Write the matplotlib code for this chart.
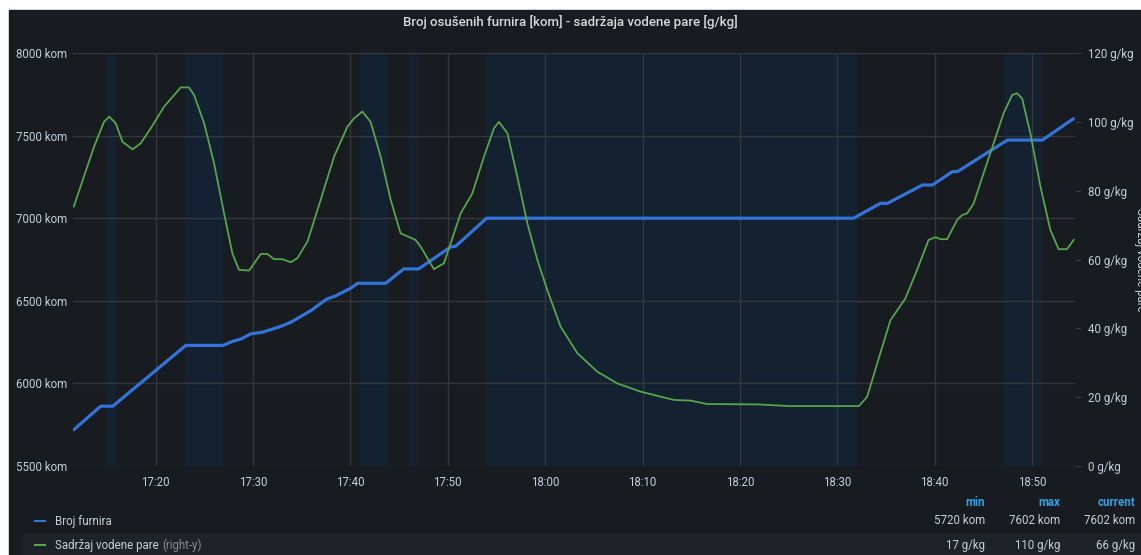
import numpy as np
import pandas as pd
import matplotlib
matplotlib.use('Agg')
import matplotlib.pyplot as plt
import matplotlib.dates as mdates
from matplotlib.patches import Rectangle

plt.rcParams['font.family'] = ['Roboto', 'DejaVu Sans']

day = '2021-03-01 '

# Broj furnira [kom] - left axis
furnir_t = ['17:11:35', '17:14:21', '17:15:35', '17:23:05', '17:26:53', '17:27:55',
            '17:28:44', '17:29:45', '17:30:59', '17:32:50', '17:33:52', '17:35:55',
            '17:37:33', '17:38:29', '17:40:01', '17:40:44', '17:43:37', '17:45:28',
            '17:47:00', '17:50:17', '17:50:48', '17:53:59', '18:31:40', '18:34:26',
            '18:35:09', '18:38:45', '18:39:46', '18:41:50', '18:42:21', '18:47:28',
            '18:51:04', '18:54:15']
furnir_v = [5720, 5862, 5862, 6230, 6230, 6255,
            6268, 6300, 6310, 6345, 6370, 6440,
            6510, 6530, 6576, 6606, 6606, 6693,
            6693, 6826, 6830, 7000, 7000, 7090,
            7090, 7201, 7201, 7282, 7282, 7473,
            7473, 7602]

# Sadrzaj vodene pare [g/kg] - right axis
para_t = ['17:11:35', '17:13:40', '17:14:41', '17:15:13', '17:15:53', '17:16:35',
          '17:17:37', '17:18:28', '17:19:29', '17:20:51', '17:22:03', '17:22:34',
          '17:23:25', '17:23:56', '17:24:58', '17:25:59', '17:27:01', '17:27:52',
          '17:28:33', '17:29:35', '17:30:47', '17:31:28', '17:32:09', '17:33:01',
          '17:33:52', '17:34:33', '17:35:35', '17:36:56', '17:38:19', '17:39:41',
          '17:40:22', '17:41:13', '17:42:04', '17:43:06', '17:44:08', '17:45:09',
          '17:46:41', '17:47:13', '17:48:34', '17:49:36', '17:51:19', '17:52:31',
          '17:53:43', '17:54:44', '17:55:15', '17:56:07', '17:57:08', '17:58:10',
          '17:59:11', '18:00:13', '18:01:35', '18:03:18', '18:05:21', '18:07:24',
          '18:09:48', '18:11:30', '18:13:13', '18:14:56', '18:16:39', '18:21:47',
          '18:25:12', '18:32:13', '18:33:04', '18:34:06', '18:35:28', '18:37:00',
          '18:38:12', '18:39:23', '18:40:05', '18:40:36', '18:41:17', '18:42:19',
          '18:42:49', '18:43:20', '18:44:01', '18:45:02', '18:46:04', '18:47:05',
          '18:47:58', '18:48:28', '18:48:59', '18:49:50', '18:50:52', '18:51:53',
          '18:52:44', '18:53:36', '18:54:17']
para_v = [75.4, 92.8, 100.0, 101.5, 99.6, 94.2,
          92.0, 93.8, 98.1, 104.4, 108.3, 110.0,
          110.0, 107.8, 99.6, 88.0, 73.4, 61.8,
          57.0, 56.8, 61.6, 61.6, 60.1, 60.1,
          59.2, 60.4, 65.2, 77.3, 89.9, 98.6,
          101.0, 103.0, 100.0, 89.9, 77.3, 67.6,
          65.7, 63.7, 57.2, 58.9, 73.4, 79.2,
          89.9, 98.1, 100.0, 96.7, 84.1, 70.5,
          60.0, 51.1, 40.5, 32.8, 27.4, 24.0,
          21.6, 20.4, 19.2, 19.0, 18.0, 17.9,
          17.4, 17.4, 20.1, 29.8, 42.4, 48.7,
          57.0, 65.7, 66.5, 65.9, 65.9, 71.5,
          72.9, 73.4, 76.3, 85.1, 93.8, 102.5,
          107.8, 108.3, 106.8, 96.7, 81.2, 68.6,
          63.0, 63.0, 65.7]

# shaded time regions
band_start = ['17:14:58', '17:23:00', '17:40:58', '17:46:00', '17:53:54', '18:47:06']
band_end = ['17:15:54', '17:26:57', '17:43:54', '17:46:54', '18:32:00', '18:51:00']

legend_names = ['Broj furnira', 'Sadržaj vodene pare']
stat_min = ['5720 kom', '17 g/kg']
stat_max = ['7602 kom', '110 g/kg']
stat_cur = ['7602 kom', '66 g/kg']

bg = '#181b1f'
txt = '#c7d0d9'
blue = '#3274d9'
green = '#56a64b'
fs = 8.3

def tt(lst):
    return pd.to_datetime([day + s for s in lst])

W, H = 1141, 555
fig = plt.figure(figsize=(W / 100, H / 100), dpi=100, facecolor='white')
fig.patches.append(Rectangle((9 / W, 0), 1, 1 - 10 / H, transform=fig.transFigure,
                             color=bg, zorder=-1))
# second legend row background
fig.patches.append(Rectangle((23 / W, 0), 1, 21 / H, transform=fig.transFigure,
                             color='#1f2226', zorder=-1))

ax = fig.add_axes([73 / W, 1 - 466 / H, (1075 - 73) / W, (466 - 53) / H])
ax.set_facecolor(bg)
for s, e in zip(tt(band_start), tt(band_end)):
    ax.axvspan(s, e, color='#132131', lw=0, zorder=1)
ax.plot(tt(furnir_t), furnir_v, color=blue, lw=2.3, solid_capstyle='round', zorder=3)
ax.set_ylim(5500, 8000)
ax.set_yticks([5500, 6000, 6500, 7000, 7500, 8000])
ax.set_yticklabels([f'{v} kom' for v in [5500, 6000, 6500, 7000, 7500, 8000]])
ax.set_xlim(tt(['17:11:30'])[0], tt(['18:54:25'])[0])
ax.xaxis.set_major_locator(mdates.MinuteLocator(byminute=[0, 10, 20, 30, 40, 50]))
ax.xaxis.set_major_formatter(mdates.DateFormatter('%H:%M'))
ax.grid(True, color='#34373c', lw=1)
ax.tick_params(axis='both', length=0, colors=txt, labelsize=fs)
ax.tick_params(axis='x', pad=7)
ax.tick_params(axis='y', pad=4)
for sp in ax.spines.values():
    sp.set_visible(False)

ax2 = ax.twinx()
ax2.plot(tt(para_t), para_v, color=green, lw=1.3, zorder=3)
ax2.set_ylim(0, 120)
ax2.set_yticks(range(0, 121, 20))
ax2.set_yticklabels([f'{v} g/kg' for v in range(0, 121, 20)])
ax2.tick_params(axis='y', length=4, colors=txt, labelsize=fs, pad=5)
ax2.tick_params(axis='y', color='#3a3d42')
for sp in ax2.spines.values():
    sp.set_visible(False)

fig.text(1140 / W, 0.5 * ((1 - 466 / H) + (1 - 53 / H)), 'Sadržaj vodene pare',
         rotation=270, ha='center', va='center', color=txt, fontsize=fs)

fig.text(0.5, 1 - 22 / H, 'Broj osušenih furnira [kom] - sadržaja vodene pare [g/kg]',
         ha='center', va='center', color='#d8d9da', fontsize=9.5, fontweight='medium')

# legend table
hy = 1 - 502 / H
for x, lab in zip([985, 1060, 1135], ['min', 'max', 'current']):
    fig.text(x / W, hy, lab, ha='right', va='center', color='#33a2e5',
             fontsize=fs, fontweight='bold')
for i, (name, col) in enumerate(zip(legend_names, [blue, green])):
    y = 1 - (521 + 24 * i) / H
    fig.lines.append(plt.Line2D([35 / W, 45 / W], [y, y], transform=fig.transFigure,
                                color=col, lw=1.5))
    fig.text(55 / W, y, name, ha='left', va='center', color=txt, fontsize=fs)
    if i == 1:
        fig.text(162 / W, y, '(right-y)', ha='left', va='center', color='#8e8e8e',
                 fontsize=fs)
    fig.text(985 / W, y, stat_min[i], ha='right', va='center', color=txt, fontsize=fs)
    fig.text(1060 / W, y, stat_max[i], ha='right', va='center', color=txt, fontsize=fs)
    fig.text(1135 / W, y, stat_cur[i], ha='right', va='center', color=txt, fontsize=fs)

fig.savefig('out.png', dpi=100, facecolor='white')
